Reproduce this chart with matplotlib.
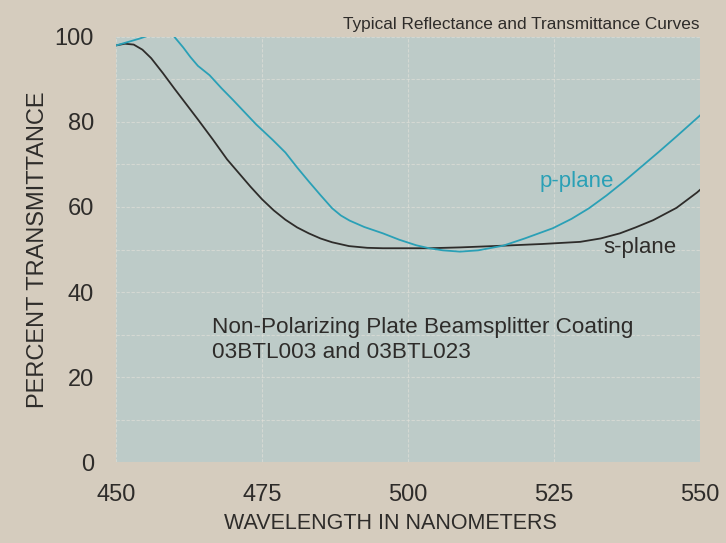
import numpy as np
import matplotlib
matplotlib.use("Agg")
import matplotlib.pyplot as plt

plt.rcParams['font.family'] = ['Liberation Sans', 'DejaVu Sans']

# s-plane transmittance (percent) vs wavelength (nm)
s_wavelength = [450, 451.5, 453, 454.5, 456, 458, 460, 462, 464, 466.6, 469, 471, 473,
                475, 477, 479, 481, 483, 485, 487, 489.9, 493, 495.7, 503.6, 509,
                516.3, 523, 529.5, 533, 536.3, 539, 542, 546, 549.5, 550]
s_trans = [98.0, 98.4, 98.2, 97.0, 95.0, 91.5, 87.8, 84.2, 80.6, 75.8, 71.2, 68.0, 64.8,
           61.8, 59.2, 57.0, 55.2, 53.8, 52.6, 51.7, 50.8, 50.4, 50.3, 50.3, 50.5,
           50.9, 51.3, 51.8, 52.6, 53.8, 55.2, 56.9, 59.8, 63.4, 64.0]

# p-plane transmittance (percent) vs wavelength (nm); runs off the top of the scale near 457 nm
p_wavelength = [450, 452, 454, 455.5, 458, 459.8, 461.5, 462.7, 464, 466, 468, 470, 472, 474,
                476.8, 479, 481, 483, 485, 487, 488.5, 490, 492.5, 495.7, 498.5, 501.4, 503.6,
                506, 508.9, 512, 516.3, 520, 524.8, 528, 531, 534, 537, 540, 543, 546, 550]
p_trans = [98.0, 98.8, 99.6, 100.3, 101.0, 100.3, 97.5, 95.3, 93.2, 91.0, 88.0, 85.2, 82.3, 79.4,
           75.8, 72.8, 69.3, 66.0, 62.8, 59.7, 58.0, 56.8, 55.3, 53.8, 52.3, 51.0, 50.3,
           49.8, 49.5, 49.8, 50.9, 52.6, 55.0, 57.2, 59.7, 62.7, 66.0, 69.5, 73.0, 76.6, 81.5]

page = '#d5ccbe'
panel = '#bdcbc8'
ink = '#2e2c2a'
teal = '#2aa0b6'

fig = plt.figure(figsize=(7.26, 5.43), dpi=100, facecolor=page)
ax = fig.add_axes([0.16, 0.149, 0.804, 0.783])
ax.set_facecolor(panel)

ax.plot(s_wavelength, s_trans, color=ink, lw=1.3, solid_joinstyle='round')
ax.plot(p_wavelength, p_trans, color=teal, lw=1.3, solid_joinstyle='round')

ax.set_xlim(450, 550)
ax.set_ylim(0, 100)
ax.set_xticks([450, 475, 500, 525, 550])
ax.set_yticks([0, 20, 40, 60, 80, 100])
ax.set_yticks(np.arange(10, 100, 20), minor=True)
ax.tick_params(length=0, which='both', labelsize=17, labelcolor=ink)
ax.tick_params(axis='y', pad=16)
ax.tick_params(axis='x', pad=16)

# faint white rules across the panel
ax.grid(True, which='both', color='#e4e2da', lw=0.8, ls=(0, (3, 1.5)), alpha=0.6)
ax.set_axisbelow(True)
for sp in ax.spines.values():
    sp.set_visible(False)

ax.set_xlabel('WAVELENGTH IN NANOMETERS', fontsize=15.5, color=ink)
ax.xaxis.set_label_coords(0.47, -0.12)
ax.set_ylabel('PERCENT TRANSMITTANCE', fontsize=17, color=ink, labelpad=4)

ax.text(522.6, 65.9, 'p-plane', color=teal, fontsize=16, va='center')
ax.text(533.4, 50.4, 's-plane', color=ink, fontsize=16, va='center')
ax.text(466.4, 28.7, 'Non-Polarizing Plate Beamsplitter Coating\n03BTL003 and 03BTL023',
        color=ink, fontsize=16.2, linespacing=1.2, va='center')

fig.text(0.963, 0.954, 'Typical Reflectance and Transmittance Curves',
         ha='right', va='center', fontsize=12.4, color=ink)

fig.savefig('out.png', dpi=100, facecolor=page)
